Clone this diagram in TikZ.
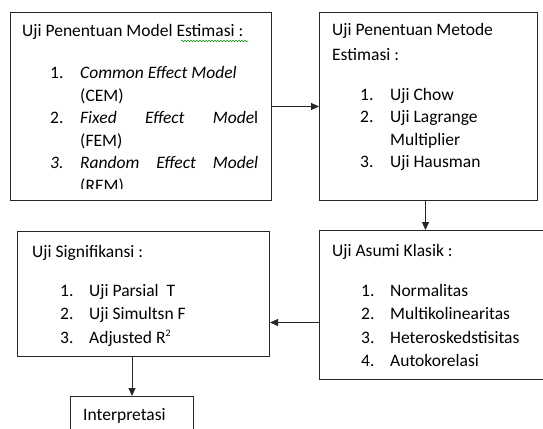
\documentclass[tikz,border=0pt]{standalone}
\usepackage{fontspec}
\setmainfont{Carlito}
\usetikzlibrary{arrows.meta,decorations.pathmorphing}
\begin{document}
\begin{tikzpicture}[x=1pt,y=-1pt,
  box/.style={draw=black!85, line width=1pt, rectangle, inner sep=0pt, anchor=north west},
  txt/.style={anchor=base west, inner sep=0pt, font=\fontsize{17.5}{23}\selectfont, text=black},
  arr/.style={draw=black!85, line width=0.9pt, -{Triangle[length=8pt,width=7pt]}},
  squig/.style={draw=green!55!black, line width=0.5pt, decorate, decoration={snake, amplitude=0.7pt, segment length=3pt}}]
\useasboundingbox (0,0) rectangle (543,428);
\clip (0,0) rectangle (543,428);
% boxes
\node[box, minimum width=261pt, minimum height=188pt] (b1) at (10,12) {};
\node[box, minimum width=218pt, minimum height=188pt] (b2) at (319,12) {};
\node[box, minimum width=252pt, minimum height=125pt] (b3) at (17,231) {};
\node[box, minimum width=240pt, minimum height=149pt] (b4) at (319,230) {};
\node[box, minimum width=123pt, minimum height=50pt] (b5) at (70,396) {};
% box 1 text
\begin{scope}
\clip (10,12) rectangle (271,188.5);
\node[txt] (t1) at (22,37) {Uji Penentuan Model Estimasi :};
\node[txt] (n11) at (50,78) {1.};
\node[txt] (i11) at (80,78) {\itshape Common Effect Model};
\node[txt] (i11b) at (80,101) {(CEM)};
\node[txt] (n12) at (50,123.5) {2.};
\node[txt] (i12) at (80,123.5) {\makebox[178pt][s]{\itshape Fixed Effect Mode\upshape l}};
\node[txt] (i12b) at (80,146) {(FEM)};
\node[txt] (n13) at (50,168.5) {\itshape 3.};
\node[txt] (i13) at (80,168.5) {\makebox[178pt][s]{\itshape Random Effect Model}};
\node[txt] (i13b) at (80,191) {(REM)};
\end{scope}
\draw[squig] (181,41) -- (248,41);
% box 2 text
\node[txt] (t2a) at (332,36) {Uji Penentuan Metode};
\node[txt] (t2b) at (332,60) {Estimasi :};
\node[txt] (n21) at (360,100) {1.};
\node[txt] (i21) at (390,100) {Uji Chow};
\node[txt] (n22) at (360,122.5) {2.};
\node[txt] (i22) at (390,122.5) {Uji Lagrange};
\node[txt] (i22b) at (390,145) {Multiplier};
\node[txt] (n23) at (360,167.5) {3.};
\node[txt] (i23) at (390,167.5) {Uji Hausman};
% box 3 text
\node[txt] (t3) at (32,257) {Uji Signifikansi :};
\node[txt] (n31) at (60,296) {1.};
\node[txt] (i31) at (89,296) {Uji Parsial\ \ T};
\node[txt] (n32) at (60,319) {2.};
\node[txt] (i32) at (89,319) {Uji Simultsn F};
\node[txt] (n33) at (60,343) {3.};
\node[txt] (i33) at (89,343) {Adjusted R\raisebox{6.5pt}{\fontsize{10}{10}\selectfont 2}};
% box 4 text
\node[txt] (t4) at (332,256) {Uji Asumi Klasik :};
\node[txt] (n41) at (361,296) {1.};
\node[txt] (i41) at (390,296) {Normalitas};
\node[txt] (n42) at (361,319) {2.};
\node[txt] (i42) at (390,319) {Multikolinearitas};
\node[txt] (n43) at (361,343) {3.};
\node[txt] (i43) at (390,343) {Heteroskedstisitas};
\node[txt] (n44) at (361,366) {4.};
\node[txt] (i44) at (390,366) {Autokorelasi};
% box 5 text
\node[txt] (t5) at (83,420) {Interpretasi};
% connectors
\draw[arr] (b1.east) -- (b2.west);
\draw[arr] ([xshift=-3pt]b2.south) -- ([xshift=-3pt]b2.south |- b4.north);
\draw[arr] ([yshift=-17.5pt]b4.west) -- ([yshift=-17.5pt]b4.west -| b3.east);
\draw[arr] (b5.north |- b3.south) -- (b5.north);
\end{tikzpicture}
\end{document}
